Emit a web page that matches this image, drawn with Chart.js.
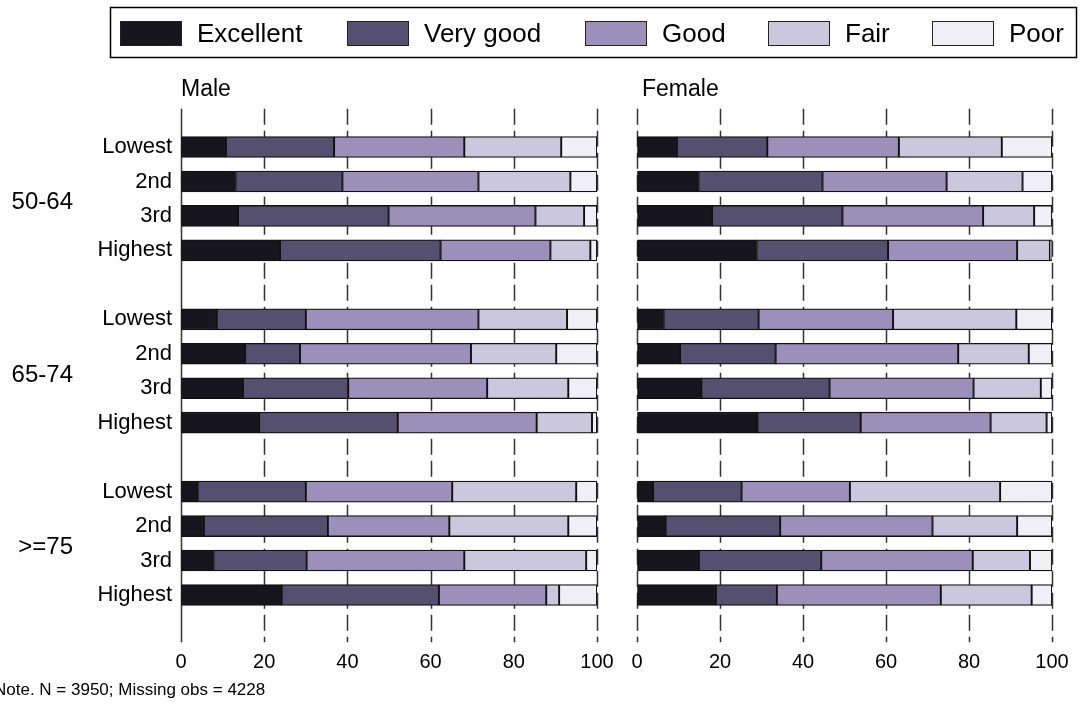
<!DOCTYPE html>
<html>
<head>
<meta charset="utf-8">
<script src="https://cdn.jsdelivr.net/npm/chart.js@4.4.1/dist/chart.umd.min.js"></script>
<style>
    body { margin: 0; background: #fff; }
    #wrap { position: relative; width: 1081px; height: 707px; }
    #wrap canvas { position: absolute; left: 0; top: 0; }
</style>
</head>
<body>
<div id="wrap">
    <canvas id="maleChart" width="1081" height="707"></canvas>
    <canvas id="femaleChart" width="1081" height="707"></canvas>
</div>
<script>
// Categories
const ageGroups = ['50-64', '65-74', '>=75'];
const incomeLevels = ['Lowest', '2nd', '3rd', 'Highest'];
const ratings = ['Excellent', 'Very good', 'Good', 'Fair', 'Poor'];
const ratingColors = ['#17161f', '#554f70', '#9b90b9', '#cbc7dd', '#f0eff5'];
const xTickValues = [0, 20, 40, 60, 80, 100];
const noteText = 'Note. N = 3950; Missing obs = 4228';

// Percent per row: 50-64 (Lowest..Highest), 65-74 (..), >=75 (..)
const maleExcellent = [10.8, 13.1, 13.7, 23.8, 8.6, 15.4, 14.9, 18.8, 4.0, 5.5, 7.8, 24.2];
const maleVeryGood  = [26.0, 25.7, 36.2, 38.6, 21.4, 13.2, 25.3, 33.3, 26.0, 29.8, 22.4, 37.8];
const maleGood      = [31.3, 32.7, 35.3, 26.4, 41.5, 41.1, 33.4, 33.4, 35.2, 29.2, 37.9, 25.8];
const maleFair      = [23.3, 22.1, 11.7, 9.6, 21.3, 20.5, 19.5, 13.3, 29.8, 28.6, 29.3, 3.1];
const malePoor      = [8.6, 6.4, 3.1, 1.6, 7.2, 9.8, 6.9, 1.2, 5.0, 6.9, 2.6, 9.1];

const femaleExcellent = [9.6, 14.8, 18.1, 28.8, 6.4, 10.4, 15.5, 29.0, 3.9, 6.9, 14.9, 19.0];
const femaleVeryGood  = [21.8, 29.9, 31.4, 31.7, 22.9, 23.0, 30.9, 24.9, 21.3, 27.6, 29.5, 14.7];
const femaleGood      = [31.7, 29.9, 33.9, 31.1, 32.4, 44.0, 34.7, 31.3, 26.1, 36.7, 36.5, 39.5];
const femaleFair      = [24.8, 18.3, 12.3, 7.9, 29.7, 17.0, 16.2, 13.5, 36.2, 20.4, 13.8, 21.9];
const femalePoor      = [12.1, 7.1, 4.3, 0.5, 8.6, 5.6, 2.7, 1.3, 12.5, 8.4, 5.3, 4.9];

const FONT = "'Liberation Sans', Arial, sans-serif";

// rows with an empty slot between the age groups
const rowLabels = [];
ageGroups.forEach((g, gi) => {
    if (gi > 0) rowLabels.push('');
    rowLabels.push(...incomeLevels);
});

function withGaps(values) {
    const out = [];
    ageGroups.forEach((g, gi) => {
        if (gi > 0) out.push(null);
        out.push(...values.slice(gi * 4, gi * 4 + 4));
    });
    return out;
}

// dashed vertical grid lines, drawn behind the bars
const dashGrid = {
    id: 'dashGrid',
    beforeDatasetsDraw(chart, args, opts) {
        const { ctx, chartArea, scales: { x } } = chart;
        ctx.save();
        ctx.strokeStyle = '#333';
        ctx.lineWidth = 1.5;
        xTickValues.forEach(v => {
            const px = Math.round(x.getPixelForValue(v)) + 0.5;
            ctx.setLineDash(v === 0 && opts.solidZero ? [] : [16, 6]);
            ctx.beginPath();
            ctx.moveTo(px, chartArea.top - 21);
            ctx.lineTo(px, chartArea.bottom + 30);
            ctx.stroke();
        });
        ctx.restore();
    }
};

// panel title, age group labels, note and legend
const panelText = {
    id: 'panelText',
    afterDraw(chart, args, opts) {
        const { ctx, chartArea, scales: { y } } = chart;
        ctx.save();
        ctx.fillStyle = '#000';
        ctx.textBaseline = 'middle';
        ctx.font = '23px ' + FONT;
        ctx.textAlign = 'left';
        ctx.fillText(opts.title, chartArea.left + opts.titleShift, 90);

        if (opts.groups) {
            ctx.font = '24px ' + FONT;
            ctx.textAlign = 'right';
            ageGroups.forEach((g, gi) => {
                const yMid = (y.getPixelForValue(gi * 5 + 1) + y.getPixelForValue(gi * 5 + 2)) / 2;
                ctx.fillText(g, 73, yMid + 4);
            });
            ctx.font = '17px ' + FONT;
            ctx.textAlign = 'left';
            ctx.fillText(noteText, -6, 690);
        }

        if (opts.legend) {
            ctx.lineWidth = 1.5;
            ctx.strokeStyle = '#000';
            ctx.strokeRect(110.5, 7.5, 966, 50);
            const swatchX = [120, 347, 585, 768, 932];
            ctx.font = '26px ' + FONT;
            ctx.textAlign = 'left';
            chart.data.datasets.forEach((ds, i) => {
                ctx.fillStyle = ds.backgroundColor;
                ctx.fillRect(swatchX[i], 21, 62, 25);
                ctx.lineWidth = 1;
                ctx.strokeStyle = '#222';
                ctx.strokeRect(swatchX[i] + 0.5, 21.5, 61, 24);
                ctx.fillStyle = '#000';
                ctx.fillText(ds.label, swatchX[i] + 77, 35);
            });
        }
        ctx.restore();
    }
};

function makePanel(canvasId, series, cfg) {
    const ctx = document.getElementById(canvasId).getContext('2d');
    return new Chart(ctx, {
        type: 'bar',
        data: {
            labels: rowLabels,
            datasets: ratings.map((r, i) => ({
                label: r,
                data: withGaps(series[i]),
                backgroundColor: ratingColors[i],
                borderColor: '#111',
                borderWidth: 1.3,
                borderSkipped: false,
                barThickness: 21
            }))
        },
        options: {
            indexAxis: 'y',
            responsive: false,
            animation: false,
            layout: {
                padding: { left: 0, right: cfg.padRight, top: 129.8, bottom: 24.8 }
            },
            scales: {
                x: {
                    stacked: true,
                    min: 0,
                    max: 100,
                    afterBuildTicks: s => { s.ticks = xTickValues.map(v => ({ value: v })); },
                    ticks: { color: '#000', font: { family: FONT, size: 20 }, padding: 0, maxRotation: 0 },
                    grid: { display: true, drawOnChartArea: false, drawTicks: true, tickLength: 38, color: 'rgba(0,0,0,0)' },
                    border: { display: false },
                    afterFit: s => { s.height = 70; }
                },
                y: {
                    stacked: true,
                    ticks: { display: cfg.showRows, color: '#000', font: { family: FONT, size: 22 }, padding: 9 },
                    grid: { display: false, drawTicks: false },
                    border: { display: false },
                    afterFit: s => { s.width = cfg.yWidth; }
                }
            },
            plugins: {
                legend: { display: false },
                tooltip: { enabled: false },
                dashGrid: { solidZero: cfg.solidZero },
                panelText: { title: cfg.title, titleShift: cfg.titleShift, groups: cfg.showRows, legend: cfg.legend }
            }
        },
        plugins: [dashGrid, panelText]
    });
}

makePanel('maleChart', [maleExcellent, maleVeryGood, maleGood, maleFair, malePoor],
    { title: 'Male', titleShift: 0, yWidth: 181, padRight: 484, showRows: true, solidZero: true, legend: false });
makePanel('femaleChart', [femaleExcellent, femaleVeryGood, femaleGood, femaleFair, femalePoor],
    { title: 'Female', titleShift: 5, yWidth: 637, padRight: 29, showRows: false, solidZero: false, legend: true });
</script>
</body>
</html>
